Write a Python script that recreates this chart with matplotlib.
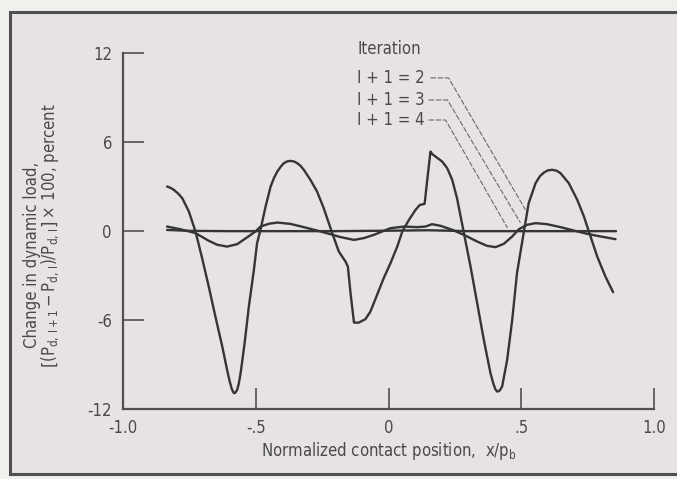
import matplotlib
matplotlib.use("Agg")
import matplotlib.pyplot as plt
from matplotlib import font_manager as fm
from matplotlib.patches import Rectangle

# ---------------- data ----------------
x_it2 = [-0.834, -0.822, -0.809, -0.793, -0.777, -0.752, -0.727, -0.702, -0.677, -0.652,
         -0.626, -0.608, -0.598, -0.591, -0.586, -0.582, -0.577, -0.570, -0.564, -0.557,
         -0.542, -0.526, -0.507, -0.495, -0.482, -0.463, -0.444, -0.431, -0.419, -0.406,
         -0.394, -0.381, -0.369, -0.356, -0.344, -0.331, -0.319, -0.294, -0.269, -0.244,
         -0.212, -0.187, -0.162, -0.153, -0.143, -0.130, -0.112, -0.087, -0.068, -0.043,
         -0.018, 0.0075, 0.033, 0.052, 0.077, 0.102, 0.118, 0.136, 0.146, 0.158,
         0.165, 0.177, 0.202, 0.221, 0.240, 0.258, 0.284, 0.309, 0.334, 0.359,
         0.384, 0.396, 0.403, 0.409, 0.415, 0.421, 0.428, 0.447, 0.466, 0.484,
         0.510, 0.528, 0.554, 0.570, 0.585, 0.600, 0.617, 0.633, 0.648, 0.679,
         0.711, 0.736, 0.761, 0.786, 0.817, 0.846]
y_it2 = [3.01, 2.93, 2.79, 2.55, 2.23, 1.33, -0.02, -1.82, -3.74, -5.76,
         -7.79, -9.36, -10.15, -10.6, -10.82, -10.93, -10.9, -10.71, -10.3, -9.58,
         -7.56, -5.09, -2.61, -0.81, 0.10, 1.66, 3.01, 3.6, 4.02, 4.35,
         4.59, 4.71, 4.74, 4.70, 4.59, 4.40, 4.14, 3.46, 2.67, 1.55,
         -0.13, -1.38, -2.05, -2.39, -4.18, -6.17, -6.17, -5.94, -5.42, -4.30,
         -3.17, -2.16, -1.04, -0.02, 0.76, 1.44, 1.77, 1.84, 3.46, 5.37,
         5.2, 5.03, 4.70, 4.25, 3.46, 2.23, -0.13, -2.39, -4.86, -7.33,
         -9.58, -10.35, -10.68, -10.82, -10.8, -10.7, -10.48, -8.68, -5.98, -2.83,
         -0.02, 1.89, 3.24, 3.7, 3.95, 4.1, 4.14, 4.08, 3.91, 3.24,
         2.11, 0.99, -0.36, -1.71, -3.06, -4.12]

x_it3 = [-0.834, -0.784, -0.727, -0.677, -0.645, -0.608, -0.570, -0.531, -0.501, -0.482,
         -0.450, -0.419, -0.369, -0.319, -0.269, -0.224, -0.181, -0.130, -0.093, -0.055,
         -0.018, 0.0075, 0.058, 0.108, 0.139, 0.164, 0.196, 0.240, 0.284, 0.334,
         0.371, 0.403, 0.434, 0.466, 0.491, 0.522, 0.554, 0.597, 0.648, 0.698,
         0.748, 0.799, 0.855]
y_it3 = [0.31, 0.13, -0.13, -0.65, -0.92, -1.04, -0.88, -0.40, -0.02, 0.31,
         0.50, 0.58, 0.49, 0.27, 0.04, -0.18, -0.40, -0.59, -0.47, -0.25,
         0.02, 0.20, 0.31, 0.27, 0.31, 0.47, 0.36, 0.09, -0.25, -0.70,
         -0.99, -1.08, -0.86, -0.36, 0.13, 0.43, 0.54, 0.47, 0.27, 0.04,
         -0.18, -0.36, -0.54]

x_it4 = [-0.834, -0.75, -0.60, -0.40, -0.20, 0.0, 0.15, 0.30, 0.50, 0.70, 0.857]
y_it4 = [0.08, 0.02, 0.0, 0.0, 0.0, 0.03, 0.06, 0.0, 0.0, 0.0, 0.0]

legend_labels = ["I + 1 = 2", "I + 1 = 3", "I + 1 = 4"]
x_ticks = [-1.0, -0.5, 0.0, 0.5, 1.0]
x_ticklabels = ["-1.0", "-.5", "0", ".5", "1.0"]
y_ticks = [-12, -6, 0, 6, 12]
y_ticklabels = ["-12", "-6", "0", "6", "12"]

# ---------------- style ----------------
names = {f.name for f in fm.fontManager.ttflist}
FONT = "Liberation Sans Narrow" if "Liberation Sans Narrow" in names else "DejaVu Sans"
plt.rcParams["font.family"] = [FONT, "DejaVu Sans"]
plt.rcParams["font.stretch"] = "condensed"
plt.rcParams["mathtext.fontset"] = "custom"
plt.rcParams["mathtext.rm"] = FONT + ":stretch=condensed"
plt.rcParams["mathtext.it"] = FONT + ":stretch=condensed"
plt.rcParams["mathtext.bf"] = FONT + ":stretch=condensed"

TXT = "#4a4a4a"
LINE = "#353535"
W, H = 677, 479

fig = plt.figure(figsize=(W / 100, H / 100), dpi=100)
fig.patch.set_facecolor("#f1f0ed")
# framed panel
fig.patches.append(Rectangle((10 / W, 5 / H), 1 - 10 / W + 0.01, (H - 12 - 5) / H,
                             transform=fig.transFigure, facecolor="#e7e2e4",
                             edgecolor="#505050", linewidth=2.2, zorder=-10))

ax = fig.add_axes([123 / W, (H - 409) / H, 531 / W, 355.7 / H], zorder=5)
ax.set_facecolor("none")
ax.set_xlim(-1, 1)
ax.set_ylim(-12, 12)
for s in ["top", "right"]:
    ax.spines[s].set_visible(False)
for s in ["left", "bottom"]:
    ax.spines[s].set_color("#505050")
    ax.spines[s].set_linewidth(1.6)

ax.set_xticks(x_ticks)
ax.set_xticklabels(x_ticklabels)
ax.set_yticks(y_ticks)
ax.set_yticklabels(y_ticklabels)
ax.tick_params(direction="in", length=15, width=1.2, color="#505050",
               labelsize=12, labelcolor=TXT)
ax.tick_params(axis="y", pad=8)
ax.tick_params(axis="x", pad=7)

for xs, ys in [(x_it2, y_it2), (x_it3, y_it3), (x_it4, y_it4)]:
    ax.plot(xs, ys, color=LINE, lw=1.7, solid_joinstyle="round",
            solid_capstyle="round")

# legend annotation with leader lines
ax.text(-0.117, 12.3, "Iteration", ha="left", va="center", fontsize=12,
        color=TXT, clip_on=False)
label_y = [10.34, 8.85, 7.5]
leader_x = [[0.158, 0.226, 0.516], [0.151, 0.222, 0.497], [0.151, 0.215, 0.448]]
leader_end_y = [1.44, 0.56, 0.22]
for lab, ly, lx, ey in zip(legend_labels, label_y, leader_x, leader_end_y):
    ax.text(-0.117, ly, lab, ha="left", va="center", fontsize=12, color=TXT)
    ax.plot(lx, [ly, ly, ey], color="#6a6a6a", lw=0.8, ls=(0, (5, 1.5)))

ax.set_xlabel(r"Normalized contact position,  x/p$_\mathrm{b}$", fontsize=12,
              color=TXT, labelpad=2)

fig.text(32 / W, 1 - 255 / H, "Change in dynamic load,", rotation=90,
         ha="center", va="center", fontsize=12, color=TXT)
fig.text(50 / W, 1 - 236 / H,
         r"$\left[(\mathrm{P}_{\mathrm{d,\,I+1}} - \mathrm{P}_{\mathrm{d,\,I}})/\mathrm{P}_{\mathrm{d,\,I}}\right] \times\, 100$, percent",
         rotation=90, ha="center", va="center", fontsize=12, color=TXT)

fig.savefig("out.png", dpi=100, facecolor=fig.get_facecolor())
